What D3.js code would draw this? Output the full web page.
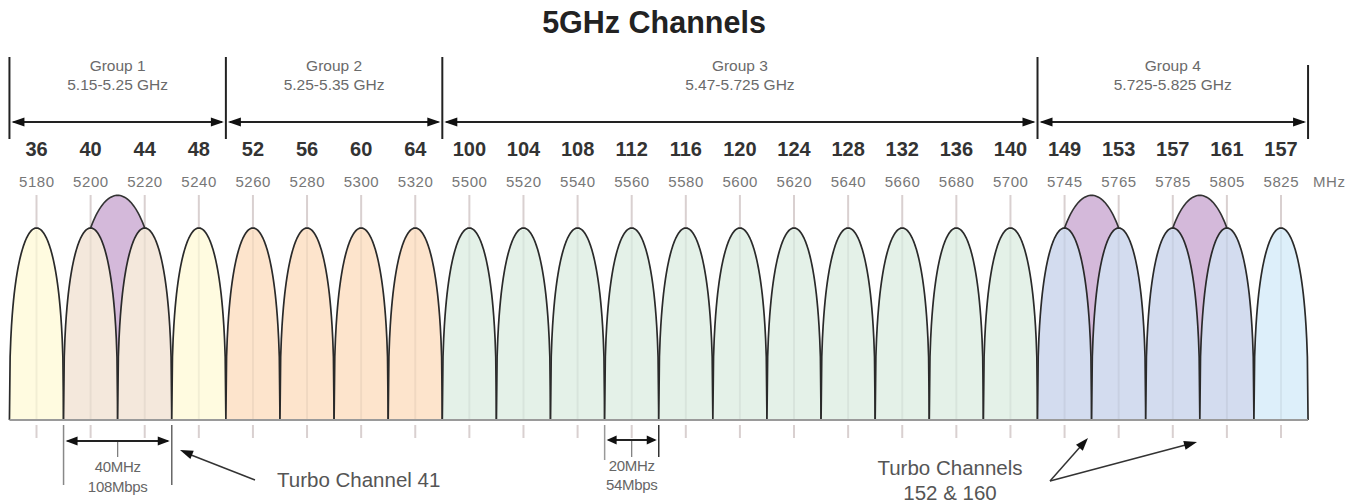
<!DOCTYPE html>
<html>
<head>
<meta charset="utf-8">
<script src="https://cdn.jsdelivr.net/npm/d3@7"></script>
<style>
html,body{margin:0;padding:0;background:#fff;}
svg{display:block;font-family:"Liberation Sans",Arial,sans-serif;}
</style>
</head>
<body>
<svg id="chart" width="1356" height="504"></svg>
<script>
// ---------- DATA ----------
const channels = [36,40,44,48,52,56,60,64,100,104,108,112,116,120,124,128,132,136,140,149,153,157,161,157];
const freqs = [5180,5200,5220,5240,5260,5280,5300,5320,5500,5520,5540,5560,5580,5600,5620,5640,5660,5680,5700,5745,5765,5785,5805,5825];
const groupNames = ["Group 1","Group 2","Group 3","Group 4"];
const groupRanges = ["5.15-5.25 GHz","5.25-5.35 GHz","5.47-5.725 GHz","5.725-5.825 GHz"];
const groupFirst = [0,4,8,19];
const groupLast = [3,7,18,23];
const channelKind = ["a","b","b","a","p","p","p","p","g","g","g","g","g","g","g","g","g","g","g","u","u","u","u","c"];
const channelAmp = channels.map(() => 1);
const turboPairs = [[1,2],[19,20],[21,22]];
const turboAmp = [1.17,1.17,1.17];

// ---------- STYLE ----------
const kindColor = {a:"#fffbe0", b:"#f4e8dc", p:"#fde4cc", g:"#e4f1e8", u:"#d3dcef", c:"#ddeffa"};
const turboColor = "#d4b9da";

const svg = d3.select("#chart");
const x = d3.scaleLinear().domain([0,23]).range([36.5,1281]);
const step = x(1) - x(0);
const y = d3.scaleLinear().domain([0,1]).range([420,228]);

// lobe path generator
function lobe(cx, hw, amp){
  const pts = [];
  const N = 80;
  for(let i=0;i<=N;i++){
    const s = -1 + 2*i/N;
    const h = Math.pow(Math.max(0,1 - s*s), 1/2.7);
    pts.push([cx + s*hw, y(amp*h)]);
  }
  return d3.line()(pts);
}

// ---------- TITLE ----------
svg.append("text").attr("x",654).attr("y",33).attr("text-anchor","middle")
  .attr("font-size",30.5).attr("font-weight","bold").attr("fill","#222").text("5GHz Channels");

// ---------- GROUP HEADERS ----------
function arrowHead(g, x1, y1, x2, y2, len, half, color){
  const a = Math.atan2(y2-y1, x2-x1);
  const bx = x2 - len*Math.cos(a), by = y2 - len*Math.sin(a);
  const px = -Math.sin(a)*half, py = Math.cos(a)*half;
  g.append("path").attr("d",`M${x2},${y2}L${bx+px},${by+py}L${bx-px},${by-py}Z`).attr("fill",color);
}
const gh = svg.append("g");
const bounds = [groupFirst[0]-0.5, ...groupLast.map(d=>d+0.5)];
bounds.forEach((b,i)=>{
  const top = i===bounds.length-1 ? 65 : 57;
  gh.append("line").attr("x1",x(b)).attr("x2",x(b)).attr("y1",top).attr("y2",139)
    .attr("stroke","#222").attr("stroke-width",2);
});
groupNames.forEach((name,i)=>{
  const x0 = x(groupFirst[i]-0.5), x1 = x(groupLast[i]+0.5);
  const cx = (x0+x1)/2;
  gh.append("text").attr("x",cx).attr("y",71).attr("text-anchor","middle")
    .attr("font-size",15.5).attr("fill","#6a6a6a").text(name);
  gh.append("text").attr("x",cx).attr("y",90).attr("text-anchor","middle")
    .attr("font-size",15.5).attr("fill","#6a6a6a").text(groupRanges[i]);
  const ay = 122;
  gh.append("line").attr("x1",x0+4).attr("x2",x1-4).attr("y1",ay).attr("y2",ay)
    .attr("stroke","#222").attr("stroke-width",2);
  arrowHead(gh, x1, ay, x0+2, ay, 13, 4.5, "#111");
  arrowHead(gh, x0, ay, x1-2, ay, 13, 4.5, "#111");
});

// ---------- CHANNEL + FREQ LABELS ----------
svg.append("g").selectAll("text").data(channels).join("text")
  .attr("x",(d,i)=>x(i)).attr("y",156).attr("text-anchor","middle")
  .attr("font-size",20).attr("font-weight","bold").attr("fill","#333").text(d=>d);
svg.append("g").selectAll("text").data(freqs).join("text")
  .attr("x",(d,i)=>x(i)).attr("y",187).attr("text-anchor","middle")
  .attr("font-size",15).attr("fill","#777").attr("textLength",35).text(d=>d);
svg.append("text").attr("x",1313).attr("y",187).attr("font-size",15).attr("fill","#777")
  .attr("textLength",32).text("MHz");

// ---------- TICKS ----------
const tickG = svg.append("g");
tickG.selectAll("line.top").data(freqs).join("line").attr("class","top")
  .attr("x1",(d,i)=>x(i)).attr("x2",(d,i)=>x(i)).attr("y1",195).attr("y2",y(1))
  .attr("stroke","#d9d0d0").attr("stroke-width",2);
tickG.selectAll("line.bot").data(freqs).join("line").attr("class","bot")
  .attr("x1",(d,i)=>x(i)).attr("x2",(d,i)=>x(i)).attr("y1",425).attr("y2",438)
  .attr("stroke","#d9d0d0").attr("stroke-width",2);

// ---------- TURBO LOBES ----------
svg.append("g").selectAll("path").data(turboPairs).join("path")
  .attr("d",(d,i)=>lobe(x((d[0]+d[1])/2), step*0.85, turboAmp[i]))
  .attr("fill",turboColor).attr("stroke","#333").attr("stroke-width",1.6);

// ---------- CHANNEL LOBES ----------
svg.append("g").selectAll("path").data(channels).join("path")
  .attr("d",(d,i)=>lobe(x(i), step/2, channelAmp[i]))
  .attr("fill",(d,i)=>kindColor[channelKind[i]]).attr("stroke","#2a2a2a").attr("stroke-width",1.7)
  .attr("stroke-linejoin","round");
// faint center lines inside lobes
svg.append("g").selectAll("line").data(channels).join("line")
  .attr("x1",(d,i)=>x(i)).attr("x2",(d,i)=>x(i)).attr("y1",(d,i)=>y(channelAmp[i])+2).attr("y2",419)
  .attr("stroke","#000").attr("stroke-opacity",0.05).attr("stroke-width",2);

// base line
svg.append("line").attr("x1",x(-0.5)).attr("x2",x(23.5)).attr("y1",420).attr("y2",420)
  .attr("stroke","#9a9a9a").attr("stroke-width",2);

// ---------- ANNOTATIONS ----------
const ann = svg.append("g");
// 40 MHz
{
  const l = x(0.5), r = x(2.5), c = x(1.5), ay = 441;
  ann.append("line").attr("x1",l).attr("x2",l).attr("y1",425).attr("y2",485).attr("stroke","#888").attr("stroke-width",1.5);
  ann.append("line").attr("x1",r).attr("x2",r).attr("y1",425).attr("y2",485).attr("stroke","#666").attr("stroke-width",1.5);
  ann.append("line").attr("x1",c).attr("x2",c).attr("y1",ay).attr("y2",457).attr("stroke","#777").attr("stroke-width",1.2);
  ann.append("line").attr("x1",l+4).attr("x2",r-4).attr("y1",ay).attr("y2",ay).attr("stroke","#222").attr("stroke-width",2);
  arrowHead(ann, r, ay, l+2, ay, 12, 4.5, "#111");
  arrowHead(ann, l, ay, r-2, ay, 12, 4.5, "#111");
  ann.append("text").attr("x",c).attr("y",472).attr("text-anchor","middle").attr("font-size",15).attr("fill","#666").attr("letter-spacing",-0.3).text("40MHz");
  ann.append("text").attr("x",c).attr("y",492).attr("text-anchor","middle").attr("font-size",15).attr("fill","#666").attr("letter-spacing",-0.3).text("108Mbps");
  ann.append("line").attr("x1",255).attr("y1",480).attr("x2",186).attr("y2",453).attr("stroke","#333").attr("stroke-width",1.5);
  arrowHead(ann, 255, 480, 180, 450, 13, 4.5, "#111");
  ann.append("text").attr("x",277).attr("y",487).attr("font-size",20.5).attr("fill","#555").text("Turbo Channel 41");
}
// 20 MHz
{
  const l = x(10.5), r = x(11.5), c = x(11), ay = 440;
  ann.append("line").attr("x1",l).attr("x2",l).attr("y1",425).attr("y2",460).attr("stroke","#999").attr("stroke-width",1.5);
  ann.append("line").attr("x1",r).attr("x2",r).attr("y1",425).attr("y2",457).attr("stroke","#333").attr("stroke-width",1.5);
  ann.append("line").attr("x1",c).attr("x2",c).attr("y1",ay).attr("y2",457).attr("stroke","#777").attr("stroke-width",1.2);
  ann.append("line").attr("x1",l+4).attr("x2",r-4).attr("y1",ay).attr("y2",ay).attr("stroke","#222").attr("stroke-width",2);
  arrowHead(ann, r, ay, l+2, ay, 10, 4.5, "#111");
  arrowHead(ann, l, ay, r-2, ay, 10, 4.5, "#111");
  ann.append("text").attr("x",c).attr("y",471).attr("text-anchor","middle").attr("font-size",15).attr("fill","#666").attr("letter-spacing",-0.3).text("20MHz");
  ann.append("text").attr("x",c).attr("y",490).attr("text-anchor","middle").attr("font-size",15).attr("fill","#666").attr("letter-spacing",-0.3).text("54Mbps");
}
// Turbo channels 152 & 160
{
  ann.append("text").attr("x",950).attr("y",475).attr("text-anchor","middle").attr("font-size",20.5).attr("fill","#555").text("Turbo Channels");
  ann.append("text").attr("x",950).attr("y",500).attr("text-anchor","middle").attr("font-size",20.5).attr("fill","#555").text("152 & 160");
  const sx = 1050, sy = 481;
  [[1088,438],[1197,442]].forEach(([tx,ty])=>{
    const a = Math.atan2(ty-sy, tx-sx);
    ann.append("line").attr("x1",sx).attr("y1",sy).attr("x2",tx-8*Math.cos(a)).attr("y2",ty-8*Math.sin(a)).attr("stroke","#333").attr("stroke-width",1.5);
    arrowHead(ann, sx, sy, tx, ty, 13, 4.5, "#111");
  });
}
</script>
</body>
</html>
